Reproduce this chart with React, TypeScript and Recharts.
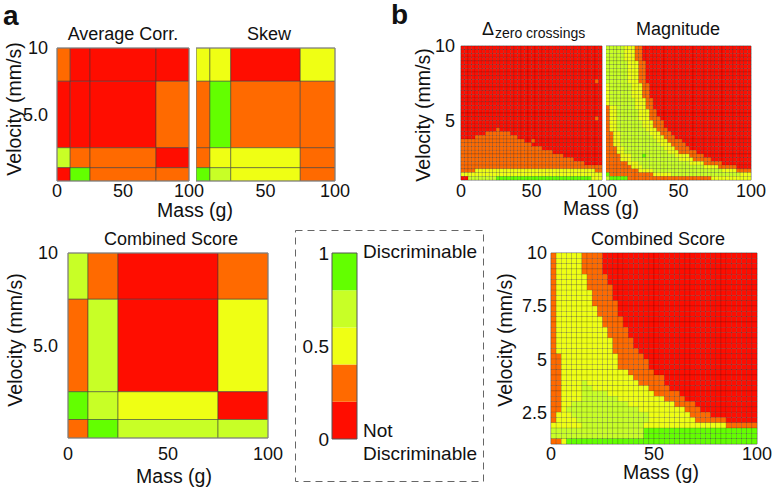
import { ReferenceArea, Scatter, ScatterChart, XAxis, YAxis } from 'recharts'

const FONT = '"Liberation Sans", Arial, Helvetica, sans-serif'
const INK = '#111'
// 0 = not discriminable ... 4 = discriminable
const LEVEL_COLORS = ['#ff0d00', '#ff6a00', '#efff14', '#c8ff26', '#63ff00']

// panel a: coarse bins (velocity rows listed top first)
const coarseMassEdges = [0, 10, 25, 75, 100]
const coarseVelocityEdges = [10, 7.5, 2.5, 1, 0]
const avgCorrLevels = [
  [1, 0, 0, 0],
  [0, 0, 0, 1],
  [3, 1, 1, 0],
  [0, 4, 1, 1],
]
const skewLevels = [
  [2, 2, 0, 2],
  [1, 4, 1, 1],
  [1, 2, 2, 1],
  [4, 3, 2, 1],
]
const combinedALevels = [
  [3, 1, 0, 1],
  [1, 3, 0, 2],
  [4, 3, 2, 0],
  [1, 4, 3, 3],
]

// panel b: fine grid, 40 mass bins x 36 velocity bins
const fineMassEdges = [
  0, 2.5, 5, 7.5, 10, 12.5, 15, 17.5, 20, 22.5, 25, 27.5, 30, 32.5, 35, 37.5, 40, 42.5, 45, 47.5, 50,
  52.5, 55, 57.5, 60, 62.5, 65, 67.5, 70, 72.5, 75, 77.5, 80, 82.5, 85, 87.5, 90, 92.5, 95, 97.5, 100,
]
const fineVelocityEdges = [
  10, 9.75, 9.5, 9.25, 9, 8.75, 8.5, 8.25, 8, 7.75, 7.5, 7.25, 7, 6.75, 6.5, 6.25, 6, 5.75, 5.5, 5.25, 5,
  4.75, 4.5, 4.25, 4, 3.75, 3.5, 3.25, 3, 2.75, 2.5, 2.25, 2, 1.75, 1.5, 1.25, 1,
]

// one string per velocity row (top first), one digit per mass bin
const zeroCrossingRows = [
  '0000000000 0000000000 0000000000 0000000000',
  '0000000000 0000000000 0000000000 0000000000',
  '0000000000 0000000000 0000000000 0000000000',
  '0000000000 0000000000 0000000000 0000000000',
  '0000000000 0000000000 0000000000 0000000000',
  '0000000000 0000000000 0000000000 0000000000',
  '0000000000 0000000000 0000000000 0000000000',
  '0000000000 0000000000 0000000000 0000000000',
  '0000000000 0000000000 0000000000 0000000000',
  '0000000000 0000000000 0000000000 0000000010',
  '0000000000 0000000000 0000000000 0000000000',
  '0000000000 0000000000 0000000000 0000000000',
  '0000000000 0000000000 0000000000 0000000000',
  '0000000000 0000000000 0000000000 0000000000',
  '0000000000 0000000000 0000000000 0000000000',
  '0000000000 0000000000 0000000000 0000000000',
  '0000000000 0000000000 0000000000 0000000000',
  '0000000000 0000000000 0000000000 0000000000',
  '0000000000 0000000000 0000000000 0000000000',
  '0000000000 0000000000 0000000000 0000000010',
  '0000000000 0000000000 0000000000 0000000000',
  '0000000000 0000000000 0000000000 0000000000',
  '0000000000 1000000000 0000000000 0000000000',
  '0000000111 1111000000 0000000000 0000000000',
  '0000111111 1111110000 0000000000 0000000000',
  '1111111111 1111111100 1000000000 0000000000',
  '1111111111 1111111111 0000000000 0000000000',
  '1111111111 1111111111 1110000000 0000000000',
  '1111111111 1111111111 1111110000 0000000000',
  '1111111111 1111111111 1111111110 0000000000',
  '1111111111 1111111111 1111111111 1100000000',
  '1111111111 1111111111 1111111111 1111100000',
  '1111111111 1111111111 1111111111 1111111111',
  '1111222222 2222222222 2222222222 2222222211',
  '2222222222 2222222222 2222222222 2222222222',
  '0033333333 4444444444 4444444444 4444444222',
]

const magnitudeRows = [
  '3333322211 0000000000 0000000000 0000000000',
  '3333322211 0000000000 0000000000 0000000000',
  '3333322211 0000000000 0000000000 0000000000',
  '3333322211 0000000000 0000000000 0000000000',
  '3333332221 1000000000 0000000000 0000000000',
  '3333332221 1000000000 0000000000 0000000000',
  '3333332221 1000000000 0000000000 0000000000',
  '3333332221 1000000000 0000000000 0000000000',
  '3333332221 1000000000 0000000000 0000000000',
  '3333332221 1000000000 0000000000 0000000000',
  '2333333222 1100000000 0000000000 0000000000',
  '2333333222 1100000000 0000000000 0000000000',
  '2333333222 1100000000 0000000000 0000000000',
  '2333333222 1100000000 0000000000 0000000000',
  '2333333322 2110000000 0000000000 0000000000',
  '2333333322 2110000000 0000000000 0000000000',
  '1223333322 2110000000 0000000000 0000000000',
  '1223333332 2211000000 0000000000 0000000000',
  '1223333332 2211000000 0000000000 0000000000',
  '1223333332 2211100000 0000000000 0000000000',
  '1223333333 2221110000 0000000000 0000000000',
  '1223333333 2221110000 0000000000 0000000000',
  '1223333333 3222111000 0000000000 0000000000',
  '1122333333 3322211100 0000000000 0000000000',
  '1122333333 3332221110 0000000000 0000000000',
  '1122333333 3333222111 1000000000 0000000000',
  '1122333333 3333322211 1100000000 0000000000',
  '1112233333 3333332221 1110000000 0000000000',
  '1112233333 3333333222 1111100000 0000000000',
  '1111222333 4333333332 2221111000 0000000000',
  '1111222333 3333333333 2222111110 0000000000',
  '1111112223 3333333333 3332222111 1100000000',
  '1111111222 3333333333 3333333222 2111110000',
  '1111111112 2223333333 3333333333 3322221111',
  '4111111111 1112222233 3333333333 3333333222',
  '3444441111 1111111111 1111111112 2222222222',
]

const combinedBRows = [
  '1222221111 0000000000 0000000000 0000000000',
  '1222221111 0000000000 0000000000 0000000000',
  '1222221111 0000000000 0000000000 0000000000',
  '1222221111 0000000000 0000000000 0000000000',
  '1222222111 1000000000 0000000000 0000000000',
  '1222222111 1000000000 0000000000 0000000000',
  '1222222111 1100000000 0000000000 0000000000',
  '1222222211 1100000000 0000000000 0000000000',
  '1222222211 1100000000 0000000000 0000000000',
  '1222222211 1110000000 0000000000 0000000000',
  '1222222221 1110000000 0000000000 0000000000',
  '1222222221 1110000000 0000000000 0000000000',
  '1222222222 1111000000 0000000000 0000000000',
  '1222222222 1111000000 0000000000 0000000000',
  '1222222222 2111100000 0000000000 0000000000',
  '1222222222 2111100000 0000000000 0000000000',
  '1222222222 2211110000 0000000000 0000000000',
  '1222222222 2211110000 0000000000 0000000000',
  '1222222222 2211111000 0000000000 0000000000',
  '1122222222 2221111100 0000000000 0000000000',
  '1122222222 2221111110 0000000000 0000000000',
  '1122222222 2221111110 0000000000 0000000000',
  '1122222222 2222211111 0000000000 0000000000',
  '1122222222 2222221111 1100000000 0000000000',
  '1122223222 2222222111 1100000000 0000000000',
  '1122223322 2222222221 1110000000 0000000000',
  '1122223333 3222222222 1111100000 0000000000',
  '1122223333 3332222222 2211110000 0000000000',
  '1122333333 3333322222 2222111100 0000000000',
  '1123333333 3333333222 2222221110 0000000000',
  '1222333333 3333333332 2222222111 1000000000',
  '1222233333 3333333332 2222222211 1111000000',
  '2222223333 3333333322 2222222222 2222111111',
  '3333333333 3333333344 4444444444 4444444444',
  '3333333333 3333333344 4444444444 4444444444',
  '1124444444 4444444444 4444444444 4444444444',
]

// colour bar
const legendStops = [0, 0.2, 0.4, 0.6, 0.8, 1]
const legendTicks = [0, 0.5, 1]

type Box = { left: number; top: number; width: number; height: number }
const PAD = 24
const X_AXIS_H = 30
const tickStyle = { fill: INK, fontSize: 18, fontFamily: FONT }

const coarseY = (v: number) => (v === 10 ? '10' : v.toFixed(1))
const noMark = () => <g />

function CoarseHeatmap({
  levels,
  box,
  xTicks,
  yTicks,
  xGap,
  yGap,
}: {
  levels: number[][]
  box: Box
  xTicks: number[]
  yTicks: number[]
  xGap: number
  yGap: number
}) {
  const yw = yTicks.length ? 46 : 0
  const cells = levels.flatMap((row, r) =>
    row.map((level, c) => ({
      x1: coarseMassEdges[c],
      x2: coarseMassEdges[c + 1],
      y1: coarseVelocityEdges[r + 1],
      y2: coarseVelocityEdges[r],
      x: (coarseMassEdges[c] + coarseMassEdges[c + 1]) / 2,
      y: (coarseVelocityEdges[r] + coarseVelocityEdges[r + 1]) / 2,
      level,
    })),
  )
  return (
    <div style={{ position: 'absolute', left: box.left - yw, top: box.top - PAD }}>
      <ScatterChart
        width={yw + box.width + PAD}
        height={PAD + box.height + X_AXIS_H + PAD}
        margin={{ top: PAD, right: PAD, bottom: PAD, left: 0 }}
      >
        <XAxis
          type="number"
          dataKey="x"
          domain={[0, 100]}
          ticks={xTicks}
          interval={0}
          height={X_AXIS_H}
          tickLine={false}
          axisLine={false}
          tickSize={xGap}
          tickMargin={0}
          tick={tickStyle}
        />
        <YAxis
          type="number"
          dataKey="y"
          domain={[0, 10]}
          ticks={yTicks}
          interval={0}
          hide={!yTicks.length}
          width={yw}
          tickLine={false}
          axisLine={false}
          tickSize={yGap}
          tickMargin={0}
          tick={tickStyle}
          tickFormatter={coarseY}
        />
        <Scatter data={cells} isAnimationActive={false} shape={noMark} />
        {cells.map((cell, i) => (
          <ReferenceArea
            key={i}
            x1={cell.x1}
            x2={cell.x2}
            y1={cell.y1}
            y2={cell.y2}
            fill={LEVEL_COLORS[cell.level]}
            fillOpacity={1}
            stroke="#3a3a3a"
            strokeWidth={0.7}
            strokeOpacity={0.75}
            ifOverflow="visible"
          />
        ))}
        <ReferenceArea x1={0} x2={100} y1={0} y2={10} fill="none" stroke="#8c8c8c" strokeWidth={1} ifOverflow="visible" />
      </ScatterChart>
    </div>
  )
}

function FineHeatmap({
  rows,
  box,
  xTicks,
  yTicks,
  xGap,
  yGap,
}: {
  rows: string[]
  box: Box
  xTicks: number[]
  yTicks: number[]
  xGap: number
  yGap: number
}) {
  const yw = yTicks.length ? 46 : 0
  const cells = rows.flatMap((row, r) =>
    row
      .replace(/ /g, '')
      .split('')
      .map((d, c) => ({
        mass: (fineMassEdges[c] + fineMassEdges[c + 1]) / 2,
        velocity: (fineVelocityEdges[r] + fineVelocityEdges[r + 1]) / 2,
        level: Number(d),
      })),
  )
  const cw = box.width / (fineMassEdges.length - 1)
  const ch = box.height / (fineVelocityEdges.length - 1)
  return (
    <div style={{ position: 'absolute', left: box.left - yw, top: box.top - PAD }}>
      <ScatterChart
        width={yw + box.width + PAD}
        height={PAD + box.height + X_AXIS_H + PAD}
        margin={{ top: PAD, right: PAD, bottom: PAD, left: 0 }}
      >
        <XAxis
          type="number"
          dataKey="mass"
          domain={[0, 100]}
          ticks={xTicks}
          interval={0}
          height={X_AXIS_H}
          tickLine={false}
          axisLine={false}
          tickSize={xGap}
          tickMargin={0}
          tick={tickStyle}
        />
        <YAxis
          type="number"
          dataKey="velocity"
          domain={[1, 10]}
          ticks={yTicks}
          interval={0}
          hide={!yTicks.length}
          width={yw}
          tickLine={false}
          axisLine={false}
          tickSize={yGap}
          tickMargin={0}
          tick={tickStyle}
        />
        <Scatter
          data={cells}
          isAnimationActive={false}
          shape={(p: any) => (
            <rect
              x={p.cx - cw / 2}
              y={p.cy - ch / 2}
              width={cw}
              height={ch}
              fill={LEVEL_COLORS[p.payload.level]}
              stroke="rgba(0,0,0,0.32)"
              strokeWidth={0.5}
            />
          )}
        />
        <ReferenceArea x1={0} x2={100} y1={1} y2={10} fill="none" stroke="#9a9a9a" strokeWidth={1} ifOverflow="visible" />
      </ScatterChart>
    </div>
  )
}

function ColorBar({ box }: { box: Box }) {
  const yw = 40
  const bands = legendStops.slice(0, -1).map((lo, i) => ({ x: 0.5, y: (lo + legendStops[i + 1]) / 2 }))
  return (
    <div style={{ position: 'absolute', left: box.left - yw, top: box.top - PAD }}>
      <ScatterChart
        width={yw + box.width + PAD}
        height={PAD + box.height + PAD}
        margin={{ top: PAD, right: PAD, bottom: PAD, left: 0 }}
      >
        <XAxis type="number" dataKey="x" domain={[0, 1]} hide />
        <YAxis
          type="number"
          dataKey="y"
          domain={[0, 1]}
          ticks={legendTicks}
          interval={0}
          width={yw}
          tickLine={false}
          axisLine={false}
          tickSize={3}
          tickMargin={0}
          tick={{ ...tickStyle, fontSize: 19 }}
        />
        <Scatter data={bands} isAnimationActive={false} shape={noMark} />
        {legendStops.slice(0, -1).map((lo, i) => (
          <ReferenceArea
            key={i}
            x1={0}
            x2={1}
            y1={lo}
            y2={legendStops[i + 1]}
            fill={LEVEL_COLORS[i]}
            fillOpacity={1}
            stroke="none"
            ifOverflow="visible"
          />
        ))}
        <ReferenceArea x1={0} x2={1} y1={0} y2={1} fill="none" stroke="#555" strokeWidth={1} ifOverflow="visible" />
      </ScatterChart>
    </div>
  )
}

const axisLabel = { fontFamily: FONT, fontSize: 19.5, fill: INK }
const titleText = { fontFamily: FONT, fontSize: 18, fill: INK }

function VelocityLabel({ x, y }: { x: number; y: number }) {
  return (
    <text transform={`translate(${x},${y}) rotate(-90)`} textAnchor="middle" {...axisLabel}>
      Velocity (mm/s)
    </text>
  )
}

export default function App() {
  return (
    <div
      style={{
        position: 'absolute',
        left: 0,
        top: 0,
        width: 780,
        height: 492,
        background: '#fff',
        overflow: 'hidden',
        fontFamily: FONT,
      }}
    >
      <CoarseHeatmap levels={avgCorrLevels} box={{ left: 57, top: 48, width: 132, height: 133 }} xTicks={[0, 50, 100]} yTicks={[5, 10]} xGap={3} yGap={9} />
      <CoarseHeatmap levels={skewLevels} box={{ left: 196, top: 48, width: 139, height: 133 }} xTicks={[50, 100]} yTicks={[]} xGap={3} yGap={9} />
      <CoarseHeatmap levels={combinedALevels} box={{ left: 68, top: 253, width: 200, height: 185 }} xTicks={[0, 50, 100]} yTicks={[5, 10]} xGap={9} yGap={10} />

      <FineHeatmap rows={zeroCrossingRows} box={{ left: 461, top: 46, width: 141, height: 134 }} xTicks={[0, 50, 100]} yTicks={[5, 10]} xGap={4} yGap={6} />
      <FineHeatmap rows={magnitudeRows} box={{ left: 606, top: 46, width: 145, height: 134 }} xTicks={[50, 100]} yTicks={[]} xGap={4} yGap={6} />
      <FineHeatmap rows={combinedBRows} box={{ left: 551, top: 253, width: 206, height: 191 }} xTicks={[0, 50, 100]} yTicks={[2.5, 5, 7.5, 10]} xGap={3} yGap={4} />

      <ColorBar box={{ left: 332, top: 253, width: 25, height: 186 }} />

      <svg
        width={780}
        height={492}
        style={{ position: 'absolute', left: 0, top: 0, pointerEvents: 'none' }}
      >
        <rect x={295.5} y={230.5} width={188} height={251} fill="none" stroke="#666" strokeWidth={1} strokeDasharray="7 5" />

        <text x={3} y={25} fontFamily={FONT} fontSize={28} fontWeight="bold" fill={INK}>a</text>
        <text x={391} y={24} fontFamily={FONT} fontSize={28} fontWeight="bold" fill={INK}>b</text>

        <text x={123} y={40} textAnchor="middle" {...titleText}>Average Corr.</text>
        <text x={269} y={40} textAnchor="middle" {...titleText}>Skew</text>
        <text x={482} y={35} {...titleText}>Δ</text>
        <text x={495} y={38} fontFamily={FONT} fontSize={14} fill={INK}>zero crossings</text>
        <text x={678} y={35} textAnchor="middle" {...titleText}>Magnitude</text>
        <text x={171} y={245} textAnchor="middle" {...titleText}>Combined Score</text>
        <text x={658} y={245} textAnchor="middle" {...titleText}>Combined Score</text>

        <VelocityLabel x={21} y={109} />
        <VelocityLabel x={430} y={115} />
        <VelocityLabel x={22} y={340} />
        <VelocityLabel x={512} y={340} />

        <text x={195} y={217} textAnchor="middle" {...axisLabel}>Mass (g)</text>
        <text x={601} y={215} textAnchor="middle" {...axisLabel}>Mass (g)</text>
        <text x={174} y={483} textAnchor="middle" {...axisLabel}>Mass (g)</text>
        <text x={661} y={479} textAnchor="middle" {...axisLabel}>Mass (g)</text>

        <text x={363} y={258} fontFamily={FONT} fontSize={19} fill={INK}>Discriminable</text>
        <text x={363} y={437} fontFamily={FONT} fontSize={19} fill={INK}>Not</text>
        <text x={363} y={460} fontFamily={FONT} fontSize={19} fill={INK}>Discriminable</text>
      </svg>
    </div>
  )
}
